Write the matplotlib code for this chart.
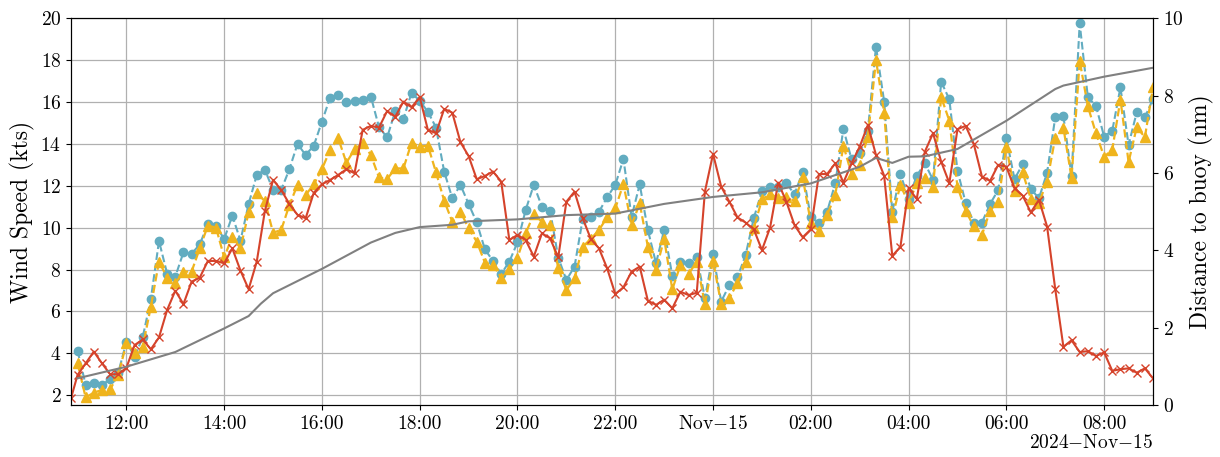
import numpy as np
import pandas as pd
import matplotlib
matplotlib.use("Agg")
import matplotlib.pyplot as plt

plt.rcParams.update({
    "font.family": "serif",
    "font.serif": ["cmr10"],
    "mathtext.fontset": "cm",
    "axes.unicode_minus": False,
    "axes.formatter.use_mathtext": True,
})

# ---------------- data ----------------
start_time = "2024-11-14 11:00"
first_red_time = "2024-11-14 10:52"

blue_kts = [4.13, 2.49, 2.57, 2.49, 2.76, 3.07, 4.55, 3.84, 4.76, 6.59,
            9.36, 7.8, 7.66, 8.82, 8.75, 9.2, 10.17, 10.08, 9.46, 10.57,
            9.38, 11.13, 12.52, 12.76, 11.8, 11.8, 12.79, 14.0, 13.47, 13.92,
            15.06, 16.21, 16.34, 15.99, 16.07, 16.1, 16.26, 14.8, 14.31, 15.57,
            15.19, 16.45, 16.05, 15.54, 14.78, 12.68, 11.4, 12.04, 11.13, 10.25,
            8.96, 8.41, 7.79, 8.38, 9.3, 10.84, 12.04, 11.0, 10.81, 8.57,
            7.5, 8.14, 10.41, 10.52, 10.76, 11.45, 12.04, 13.28, 10.52, 12.07,
            9.89, 8.3, 9.89, 7.7, 8.38, 8.3, 8.62, 6.63, 8.74, 6.47,
            7.26, 7.63, 8.7, 10.45, 11.75, 11.93, 11.96, 12.12, 11.59, 12.67,
            10.49, 10.24, 10.76, 12.12, 14.71, 13.26, 13.55, 14.62, 18.65, 16.02,
            10.76, 12.56, 11.37, 12.48, 13.07, 12.28, 16.97, 16.13, 12.72, 11.19,
            10.24, 10.24, 11.13, 11.8, 14.27, 12.32, 13.03, 11.85, 11.4, 12.63,
            15.27, 15.33, 12.47, 19.76, 16.23, 15.81, 14.35, 14.63, 16.7, 13.95,
            15.51, 15.27, 16.15]

yellow_kts = [3.52, 1.89, 2.12, 2.25, 2.28, 2.96, 4.47, 4.0, 4.31, 6.23,
              8.38, 7.61, 7.34, 7.9, 7.9, 9.01, 10.1, 10.0, 8.58, 9.57,
              9.01, 10.73, 11.64, 11.27, 9.76, 9.89, 11.08, 12.04, 11.56, 12.07,
              12.8, 13.71, 14.27, 13.1, 13.74, 14.05, 13.47, 12.4, 12.32, 12.83,
              12.83, 14.06, 13.87, 13.92, 12.64, 11.29, 10.28, 10.76, 9.97, 9.33,
              8.33, 8.22, 7.61, 8.01, 8.57, 9.73, 10.64, 10.28, 10.12, 8.06,
              7.02, 7.58, 9.09, 9.46, 9.89, 10.49, 10.92, 12.09, 10.12, 11.16,
              9.09, 7.98, 9.47, 7.05, 8.22, 7.79, 8.38, 6.35, 8.43, 6.35,
              6.63, 7.37, 8.38, 9.97, 11.35, 11.61, 11.43, 11.48, 11.27, 12.4,
              10.24, 9.84, 10.6, 11.56, 13.92, 12.56, 12.99, 14.35, 18.01, 15.49,
              10.49, 12.04, 11.16, 12.12, 12.36, 11.96, 16.23, 15.11, 11.96, 10.81,
              10.06, 9.65, 10.81, 11.24, 13.87, 11.77, 12.64, 11.38, 11.2, 12.2,
              14.3, 14.77, 12.38, 17.97, 15.8, 14.5, 13.39, 13.72, 16.12, 13.13,
              14.8, 14.32, 16.7]

red_kts = [1.85,
           2.96, 3.52, 4.08, 3.52, 3.0, 3.0, 3.31, 4.39, 4.66, 4.19,
           4.76, 6.07, 6.99, 6.35, 7.42, 7.61, 8.41, 8.41, 8.3, 9.01,
           7.95, 7.06, 8.38, 10.81, 12.28, 11.8, 11.13, 10.61, 10.45, 11.67,
           12.07, 12.28, 12.52, 12.79, 12.6, 14.67, 14.86, 14.78, 15.57, 15.3,
           16.02, 15.75, 16.23, 14.67, 14.51, 15.67, 15.49, 14.08, 13.42, 12.31,
           12.47, 12.68, 12.2, 9.41, 9.65, 9.41, 8.62, 9.73, 9.49, 8.58,
           11.24, 11.72, 10.45, 9.46, 9.01, 8.06, 6.83, 7.15, 7.9, 8.14,
           6.51, 6.31, 6.56, 6.15, 6.94, 6.78, 6.89, 11.72, 13.52, 11.96,
           11.24, 10.49, 10.24, 9.92, 8.93, 10.0, 12.15, 11.24, 10.12, 9.54,
           9.92, 12.56, 12.56, 13.07, 12.15, 13.07, 13.87, 14.9, 13.47, 12.48,
           8.65, 9.09, 11.88, 11.37, 13.63, 14.51, 13.15, 12.13, 14.7, 14.86,
           14.0, 12.44, 12.23, 13.0, 12.91, 11.88, 11.53, 10.73, 11.33, 10.05,
           7.06, 4.31, 4.62, 4.06, 4.1, 3.87, 4.04, 3.16, 3.24, 3.28,
           3.07, 3.28, 2.8]

gray_times = ["2024-11-14 11:00", "2024-11-14 12:00", "2024-11-14 13:00",
              "2024-11-14 14:00", "2024-11-14 14:30", "2024-11-14 14:45",
              "2024-11-14 15:00", "2024-11-14 16:00", "2024-11-14 17:00",
              "2024-11-14 17:30", "2024-11-14 18:00", "2024-11-14 18:40",
              "2024-11-14 19:00", "2024-11-14 20:00", "2024-11-14 21:00",
              "2024-11-14 22:00", "2024-11-14 23:00", "2024-11-15 00:00",
              "2024-11-15 01:00", "2024-11-15 02:00", "2024-11-15 03:00",
              "2024-11-15 03:20", "2024-11-15 03:40", "2024-11-15 04:00",
              "2024-11-15 04:20", "2024-11-15 05:00", "2024-11-15 06:00",
              "2024-11-15 07:00", "2024-11-15 07:10", "2024-11-15 08:00",
              "2024-11-15 09:00"]
gray_nm = [0.69, 0.99, 1.37, 1.98, 2.30, 2.62, 2.89, 3.52, 4.20, 4.45,
           4.60, 4.66, 4.75, 4.80, 4.91, 4.95, 5.20, 5.38, 5.50, 5.73,
           6.16, 6.39, 6.26, 6.42, 6.43, 6.62, 7.35, 8.17, 8.26, 8.49, 8.72]

tick_times = ["2024-11-14 12:00", "2024-11-14 14:00", "2024-11-14 16:00",
              "2024-11-14 18:00", "2024-11-14 20:00", "2024-11-14 22:00",
              "2024-11-15 00:00", "2024-11-15 02:00", "2024-11-15 04:00",
              "2024-11-15 06:00", "2024-11-15 08:00"]
tick_labels = ["12:00", "14:00", "16:00", "18:00", "20:00", "22:00",
               r"Nov$-$15", "02:00", "04:00", "06:00", "08:00"]
offset_label = r"2024$-$Nov$-$15"

# ---------------- plot ----------------
slot_times = pd.date_range(start_time, periods=len(blue_kts), freq="10min")
red_times = [pd.Timestamp(first_red_time)] + list(slot_times)

fig = plt.figure(figsize=(12.2, 4.57), dpi=100)
ax = fig.add_axes([0.0582, 0.1138, 0.8869, 0.8462])

c_blue = "#62acc0"
c_yellow = "#efb41d"
c_red = "#d5432b"

ax.plot(slot_times, blue_kts, linestyle="--", marker="o", color=c_blue,
        ms=6, lw=1.5, zorder=3)
ax.plot(slot_times, yellow_kts, linestyle="--", marker="^", color=c_yellow,
        ms=6.5, lw=1.6, zorder=4)
ax.plot(red_times, red_kts, linestyle="-", marker="x", color=c_red,
        ms=6, mew=1.0, lw=1.5, zorder=5)

ax.set_xlim(red_times[0], slot_times[-1])
ax.set_ylim(1.53, 20)
ax.set_yticks(np.arange(2, 21, 2))
ax.set_xticks(pd.to_datetime(tick_times))
ax.set_xticklabels(tick_labels)
ax.grid(True, color="#b0b0b0", lw=0.9)
ax.set_axisbelow(True)
ax.tick_params(labelsize=14)
ax.set_ylabel("Wind Speed (kts)", fontsize=17)
ax.text(1.0, -0.097, offset_label, transform=ax.transAxes, ha="right",
        va="center", fontsize=14)

ax2 = ax.twinx()
ax2.plot(pd.to_datetime(gray_times), gray_nm, color="#808080", lw=1.5)
ax2.set_ylim(0, 10)
ax2.set_yticks(np.arange(0, 11, 2))
ax2.tick_params(labelsize=14)
ax2.set_ylabel("Distance to buoy (nm)", fontsize=17)
ax2.set_xlim(red_times[0], slot_times[-1])

fig.savefig("out.png", dpi=100)
